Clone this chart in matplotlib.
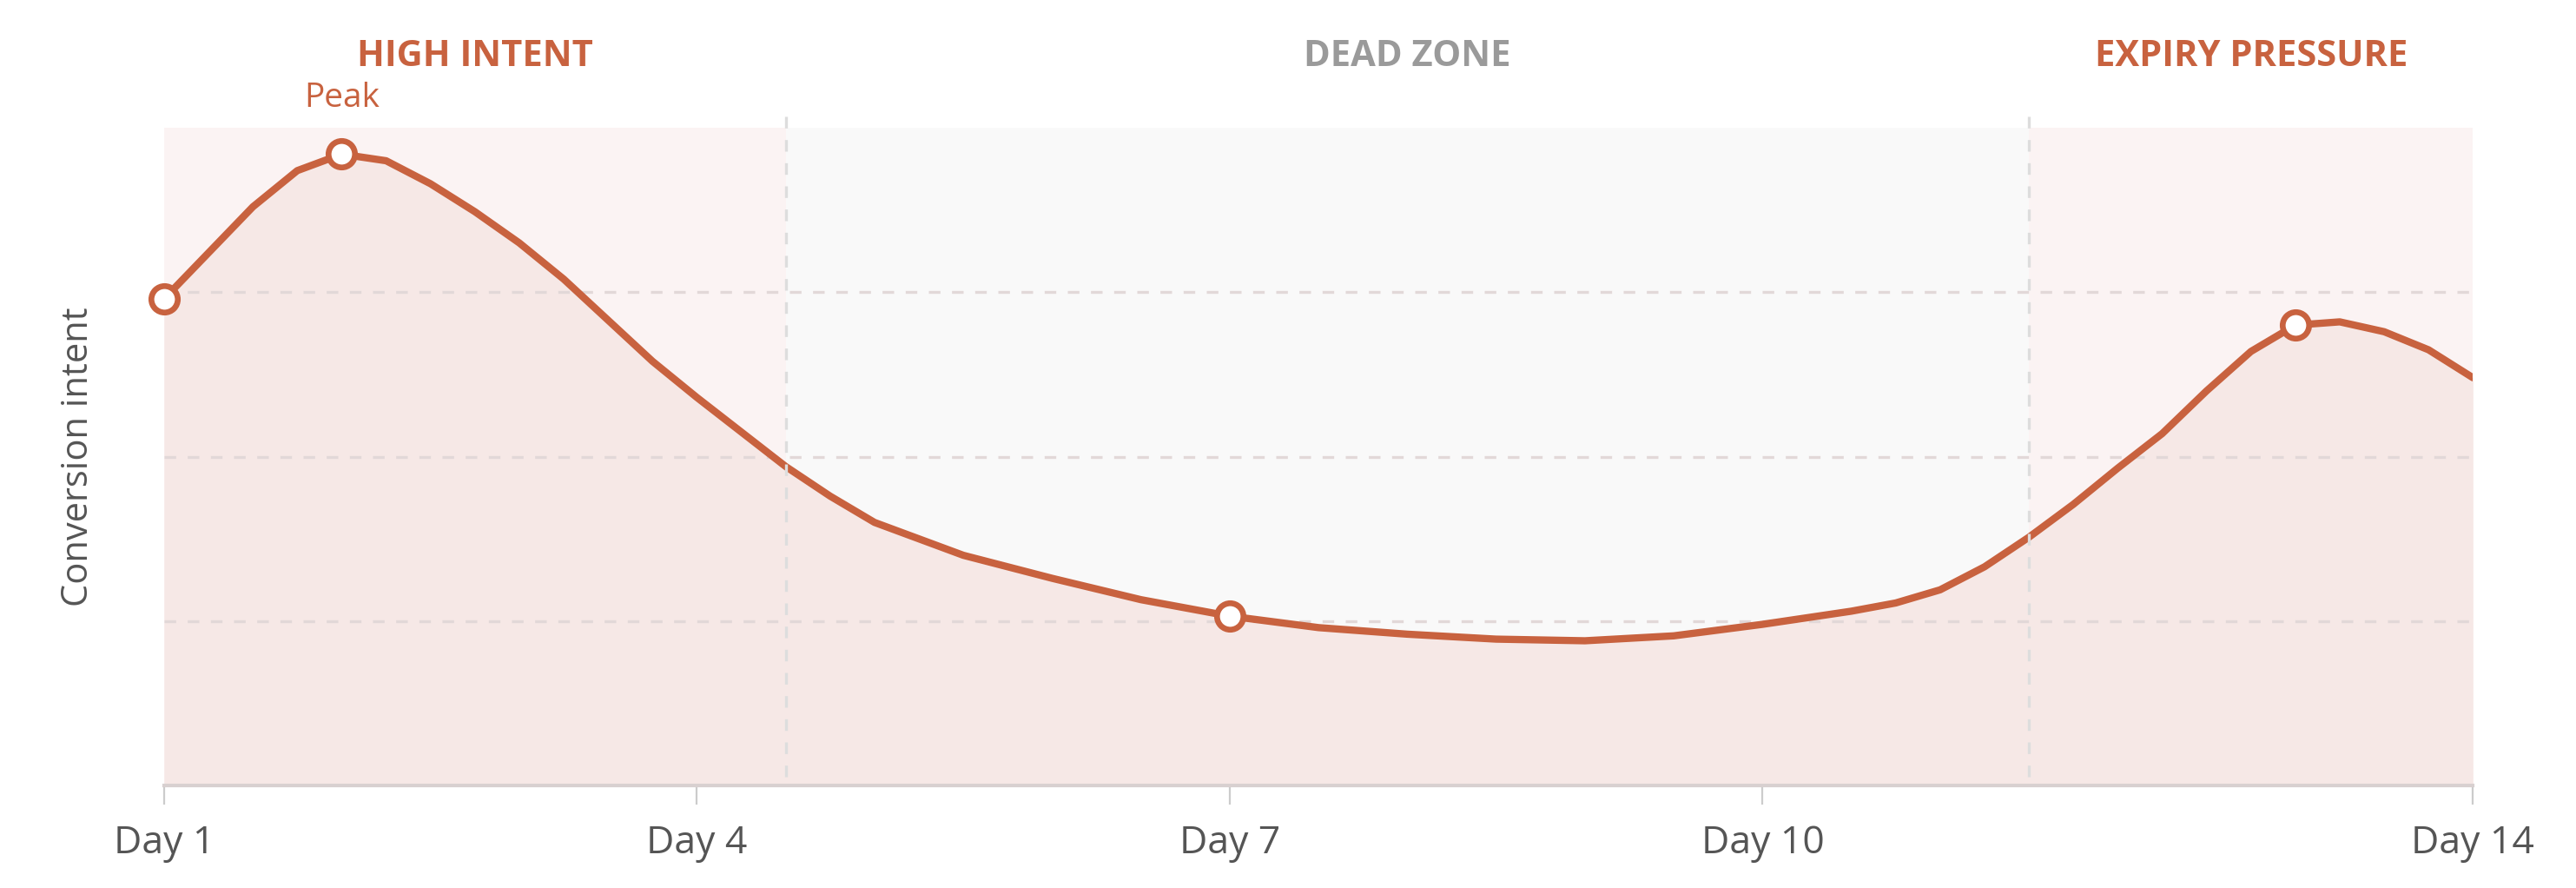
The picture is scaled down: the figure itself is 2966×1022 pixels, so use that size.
import matplotlib
matplotlib.use("Agg")
import matplotlib.pyplot as plt

plt.rcParams["font.family"] = ["Open Sans", "DejaVu Sans"]

# curve (day, intent)
days = [1, 1.25, 1.5, 1.75, 2, 2.25, 2.5, 2.75, 3, 3.25, 3.5, 3.75, 4, 4.25, 4.5,
        4.75, 5, 5.5, 6, 6.5, 7, 7.5, 8, 8.5, 9, 9.5, 10, 10.5, 10.75, 11, 11.25,
        11.5, 11.75, 12, 12.25, 12.5, 12.75, 13, 13.25, 13.5, 13.75, 14]
intent = [2.96, 3.24, 3.52, 3.74, 3.84, 3.80, 3.66, 3.49, 3.30, 3.08, 2.83, 2.58, 2.36,
          2.15, 1.94, 1.76, 1.60, 1.40, 1.26, 1.13, 1.03, 0.96, 0.92, 0.89, 0.88,
          0.91, 0.98, 1.06, 1.11, 1.19, 1.33, 1.51, 1.71, 1.93, 2.14, 2.40, 2.64, 2.80,
          2.82, 2.76, 2.65, 2.48]
marker_days = [1, 2, 7, 13]
marker_vals = [2.96, 3.84, 1.03, 2.80]
zones = [(1, 4.5, "HIGH INTENT"), (4.5, 11.5, "DEAD ZONE"), (11.5, 14, "EXPIRY PRESSURE")]
zone_colors = ["#c8623f", "#9a9a9a", "#c8623f"]
zone_fills = ["#fbf3f3", "#f9f9f9", "#fbf3f3"]
xticks = [1, 4, 7, 10, 14]
xticklabels = ["Day 1", "Day 4", "Day 7", "Day 10", "Day 14"]

LINE = "#c8623f"

fig = plt.figure(figsize=(14.83, 5.11), dpi=200)
ax = fig.add_axes([0.0637, 0.1155, 0.8963, 0.7405])

label_x = [2.75, 8, 12.75]
for (a, b, name), fc, tc, lx in zip(zones, zone_fills, zone_colors, label_x):
    ax.axvspan(a, b, color=fc, lw=0, zorder=0)
    ax.text(lx, 4.43, name, ha="center", va="center",
            fontsize=15, fontweight="bold", color=tc, clip_on=False)
for x in (4.5, 11.5):
    ax.plot([x, x], [0.05, 4.13], ls=(0, (4, 4)), color="#dddddd", lw=1.2, clip_on=False, zorder=5)
for y in (1, 2, 3):
    ax.axhline(y, ls=(0, (4, 4)), color="#e2d8d8", lw=1.2, zorder=2.5)

ax.fill_between(days, intent, 0, color="#f6e8e6", lw=0, zorder=2)
ax.plot(days, intent, color=LINE, lw=3, zorder=3, solid_capstyle="round", solid_joinstyle="round")
ax.scatter(marker_days, marker_vals, s=120, facecolor="white", edgecolor=LINE, linewidth=2.4,
           zorder=6, clip_on=False)
ax.text(2, 4.18, "Peak", ha="center", va="center", fontsize=14, color=LINE)

ax.set_xlim(1, 14)
ax.set_ylim(0, 4)
ax.set_yticks([])
ax.set_xticks(xticks)
ax.set_xticklabels(xticklabels, fontsize=16, color="#555555")
ax.tick_params(axis="x", length=8, color="#cccccc", pad=8)
for s in ("top", "right", "left"):
    ax.spines[s].set_visible(False)
ax.spines["bottom"].set_color("#d8d0d0")
ax.spines["bottom"].set_linewidth(1.5)
ax.set_ylabel("Conversion intent", fontsize=15, color="#555555", labelpad=28)

fig.savefig("out.png", dpi=200)
